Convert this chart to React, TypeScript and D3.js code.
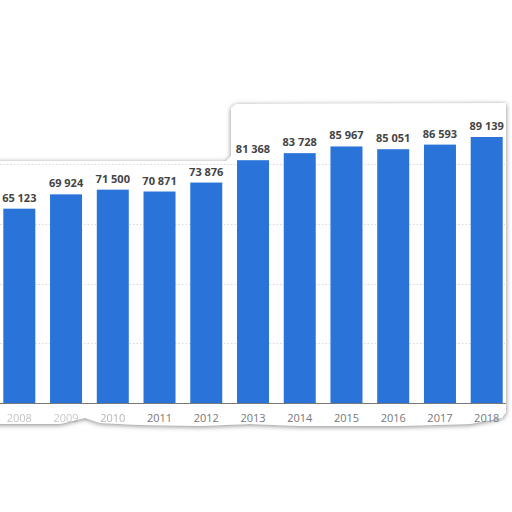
import React, { useRef, useEffect } from "react";
import * as d3 from "d3";

const years = ["2008", "2009", "2010", "2011", "2012", "2013", "2014", "2015", "2016", "2017", "2018"];
const values = [65123, 69924, 71500, 70871, 73876, 81368, 83728, 85967, 85051, 86593, 89139];
const gridTicks = [20000, 40000, 60000, 80000];
// faded year labels on the torn left part of the picture
const labelOpacity = [0.45, 0.4, 0.55, 1, 1, 1, 1, 1, 1, 1, 1];

const W = 512;
const H = 512;

const App = () => {
  const ref: any = useRef();

  useEffect(() => {
    const svg = d3.select(ref.current);
    svg.selectAll("*").remove();

    const x = d3.scaleBand().domain(years).range([3.3, 502.7]).paddingInner(0.3154).paddingOuter(0);
    const y = d3.scaleLinear().domain([0, 100000]).range([403, 104.6]);

    const defs = svg.append("defs");
    const f = defs
      .append("filter")
      .attr("id", "tear")
      .attr("x", "-10%")
      .attr("y", "-10%")
      .attr("width", "120%")
      .attr("height", "120%");
    f.append("feDropShadow")
      .attr("dx", 0)
      .attr("dy", 1)
      .attr("stdDeviation", 2.8)
      .attr("flood-color", "#666")
      .attr("flood-opacity", 0.8);

    // torn paper outline behind the chart
    const outline: [number, number][] = [
      [-10, 161],
      [226, 161],
      [231, 156],
      [231, 108],
      [236, 104],
      [506, 103],
      [506, 412],
      [502, 418],
      [470, 424],
      [400, 426],
      [300, 426],
      [250, 424],
      [200, 426],
      [140, 425],
      [100, 423],
      [85, 418],
      [60, 424],
      [-10, 424],
    ];
    svg
      .append("path")
      .attr("d", d3.line()(outline) + "Z")
      .attr("fill", "#fff")
      .attr("filter", "url(#tear)");

    // grid lines
    svg
      .append("g")
      .selectAll("line")
      .data(gridTicks)
      .enter()
      .append("line")
      .attr("x1", 0)
      .attr("x2", 505)
      .attr("y1", (d: any) => Math.round(y(d)) + 0.5)
      .attr("y2", (d: any) => Math.round(y(d)) + 0.5)
      .attr("stroke", "#d8d8d8")
      .attr("stroke-dasharray", "1.5,2");

    // bars
    svg
      .append("g")
      .selectAll("rect")
      .data(values)
      .enter()
      .append("rect")
      .attr("x", (d: any, i: number) => x(years[i]) as number)
      .attr("width", x.bandwidth())
      .attr("y", (d: any) => y(d))
      .attr("height", (d: any) => y(0) - y(d))
      .attr("fill", "#2a73d9");

    // value labels
    svg
      .append("g")
      .selectAll("text")
      .data(values)
      .enter()
      .append("text")
      .attr("x", (d: any, i: number) => (x(years[i]) as number) + x.bandwidth() / 2)
      .attr("y", (d: any) => y(d) - 7)
      .attr("text-anchor", "middle")
      .attr("font-family", "'Open Sans', sans-serif")
      .attr("font-weight", "bold")
      .attr("font-size", 11)
      .attr("fill", "#444")
      .text((d: any) => d3.format(",")(d).replace(",", " "));

    // x axis line
    svg
      .append("line")
      .attr("x1", 0)
      .attr("x2", 506)
      .attr("y1", y(0) + 0.5)
      .attr("y2", y(0) + 0.5)
      .attr("stroke", "#777")
      .attr("stroke-width", 1);

    // year labels
    svg
      .append("g")
      .selectAll("text")
      .data(years)
      .enter()
      .append("text")
      .attr("x", (d: any) => (x(d) as number) + x.bandwidth() / 2)
      .attr("y", 422)
      .attr("text-anchor", "middle")
      .attr("font-family", "'Open Sans', sans-serif")
      .attr("font-size", 11)
      .attr("fill", "#777")
      .attr("opacity", (d: any, i: number) => labelOpacity[i])
      .text((d: any) => d);
  }, []);

  return (
    <svg
      ref={ref}
      width={W}
      height={H}
      style={{ position: "absolute", left: 0, top: 0, background: "#fff" }}
    ></svg>
  );
};

export default App;
